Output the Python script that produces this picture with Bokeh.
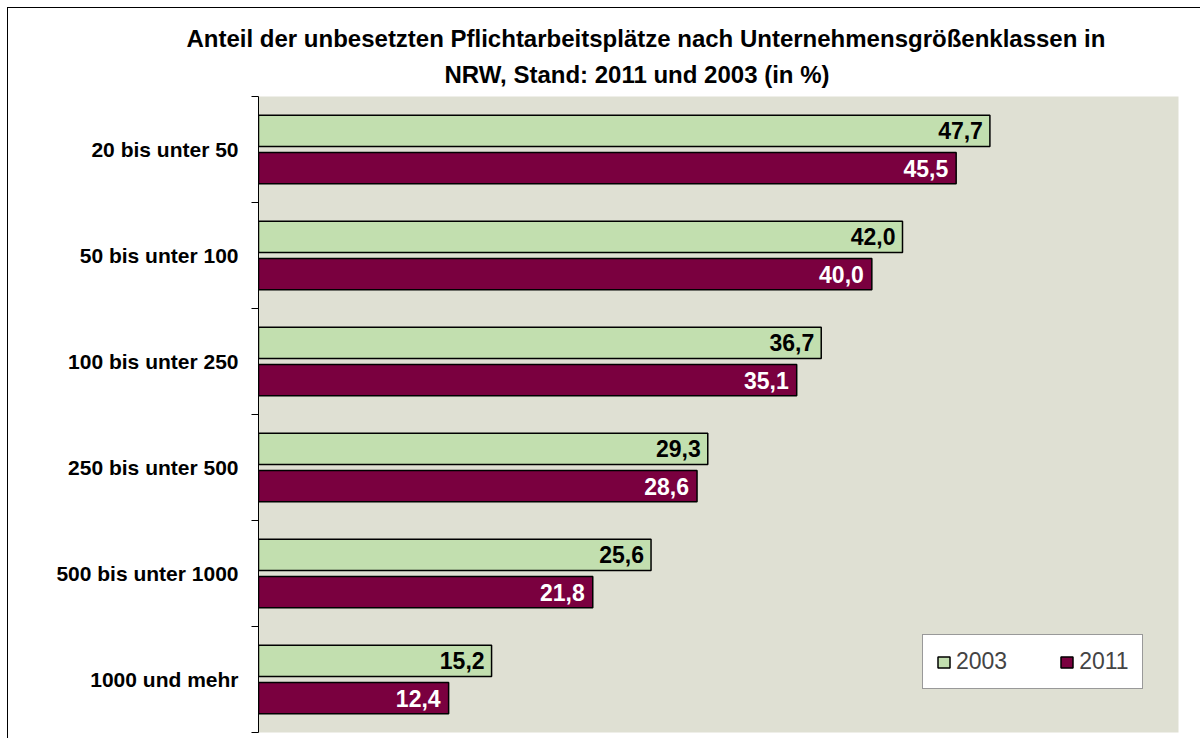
from bokeh.plotting import figure
from bokeh.models import (ColumnDataSource, Range1d, FixedTicker, Title, Legend, LegendItem)
from bokeh.core.properties import value
from bokeh.embed import file_html
from bokeh.resources import INLINE

categories = ["20 bis unter 50", "50 bis unter 100", "100 bis unter 250",
              "250 bis unter 500", "500 bis unter 1000", "1000 und mehr"]
v2003 = [47.7, 42.0, 36.7, 29.3, 25.6, 15.2]
v2011 = [45.5, 40.0, 35.1, 28.6, 21.8, 12.4]
series_names = ["2003", "2011"]
title_lines = ["Anteil der unbesetzten Pflichtarbeitsplätze nach Unternehmensgrößenklassen in",
               "NRW, Stand: 2011 und 2003 (in %)"]

FONT = "Liberation Sans"
GREEN = "#C2DFAF"
MAROON = "#7A003F"
BG = "#DFE0D3"

n = len(categories)
centers = [n - i - 0.5 for i in range(n)]
dodge = 0.175
bar_h = 0.295

def fmt(v):
    return f"{v:.1f}".replace(".", ",")

src03 = ColumnDataSource(dict(y=[c + dodge for c in centers], v=v2003, lab=[fmt(v) for v in v2003]))
src11 = ColumnDataSource(dict(y=[c - dodge for c in centers], v=v2011, lab=[fmt(v) for v in v2011]))

p = figure(width=1200, height=738, output_backend="svg", toolbar_location=None,
           x_range=Range1d(0, 60), y_range=Range1d(0, n),
           x_axis_location=None, title=None,
           min_border_left=258, min_border_top=96, min_border_right=22, min_border_bottom=6)
p.styles = {
    "background-image": "linear-gradient(#000,#000), linear-gradient(#000,#000)",
    "background-size": "1px 100%, 100% 1px",
    "background-position": "7px 7px, 7px 7px",
    "background-repeat": "no-repeat",
}
p.outline_line_color = None
p.background_fill_color = BG
p.border_fill_color = None
p.grid.visible = False

r03 = p.hbar(y="y", right="v", left=0, height=bar_h, source=src03,
             fill_color=GREEN, line_color="black", line_width=1.5)
r11 = p.hbar(y="y", right="v", left=0, height=bar_h, source=src11,
             fill_color=MAROON, line_color="black", line_width=1.5)

p.text(x="v", y="y", text="lab", source=src03, x_offset=-7, text_align="right",
       text_baseline="middle", text_font=value(FONT), text_font_style="bold",
       text_font_size="23px", text_color="black")
p.text(x="v", y="y", text="lab", source=src11, x_offset=-8, text_align="right",
       text_baseline="middle", text_font=value(FONT), text_font_style="bold",
       text_font_size="23px", text_color="white")

ax = p.yaxis[0]
ax.ticker = FixedTicker(ticks=centers, minor_ticks=list(range(n + 1)))
ax.major_label_overrides = {c: lab for c, lab in zip(centers, categories)}
ax.major_tick_line_color = None
ax.major_tick_out = 0
ax.major_tick_in = 0
ax.minor_tick_line_color = "black"
ax.minor_tick_out = 7
ax.minor_tick_in = 0
ax.axis_line_color = "black"
ax.axis_line_width = 1
ax.major_label_standoff = 13
ax.major_label_text_font = FONT
ax.major_label_text_font_style = "bold"
ax.major_label_text_font_size = "21px"
ax.major_label_text_color = "black"

# second line is closest to the frame, so add it first
title_offsets = [-72, 186]
title_standoffs = [-5, 18]
for txt, off, so in reversed(list(zip(title_lines, title_offsets, title_standoffs))):
    p.add_layout(Title(text=txt, align="left", offset=off, standoff=so,
                       text_font=FONT, text_font_style="bold", text_font_size="24px",
                       text_color="black"), "above")

legend = Legend(items=[LegendItem(label=series_names[0], renderers=[r03]),
                       LegendItem(label=series_names[1], renderers=[r11])],
                orientation="horizontal", location=(664, 43),
                padding=13, spacing=52, glyph_width=15, glyph_height=14,
                label_standoff=5, label_height=20,
                label_text_font=FONT, label_text_font_size="23px",
                border_line_color="#333333", border_line_width=1,
                background_fill_color="white", background_fill_alpha=1)
p.add_layout(legend)

open("out.html", "w").write(file_html(p, INLINE))
